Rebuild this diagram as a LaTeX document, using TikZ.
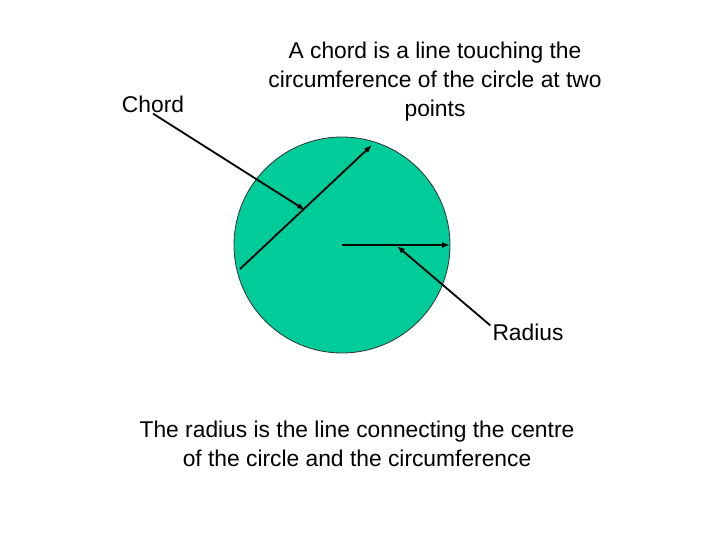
\documentclass[tikz,border=0pt]{standalone}
\usepackage{fontspec}
\setmainfont{Liberation Sans}
\usetikzlibrary{arrows.meta,positioning}
\definecolor{DiscGreen}{HTML}{00CC99}
\definecolor{RimGray}{HTML}{333333}

\begin{document}
\begin{tikzpicture}[x=1pt,y=-1pt,
  lbl/.style={font=\fontsize{22.8}{29}\selectfont,align=center,inner sep=1pt},
  ptr/.style={-{Latex[length=8pt,width=6pt]},line width=1.8pt}
]
\useasboundingbox (0,0) rectangle (720,540);
% the disc
\coordinate (O) at (342,245);
\fill[DiscGreen,draw=RimGray,line width=0.8pt] (O) circle (108);
% chord and radius
\coordinate (c1) at (240,269);
\coordinate (c2) at (372,145);
\coordinate (rim) at (450,245);
\draw[ptr] (c1) -- (c2);
\draw[ptr] (O) -- (rim);
% labels
\node[lbl] (chord) at (153,104) {Chord};
\node[lbl] (radius) at (528,332) {Radius};
\node[lbl] (chorddef) at (435,82)
  {A chord is a line touching the\\circumference of the circle at two\\points};
\node[lbl] (radiusdef) at (357,444)
  {The radius is the line connecting the centre\\of the circle and the circumference};
% pointers
\coordinate (onchord) at (305,210);
\coordinate (onradius) at (397,246);
\draw[ptr] (chord.south) -- (onchord);
\draw[ptr] ([xshift=-1pt,yshift=-3pt]radius.north west) -- (onradius);
\end{tikzpicture}
\end{document}
